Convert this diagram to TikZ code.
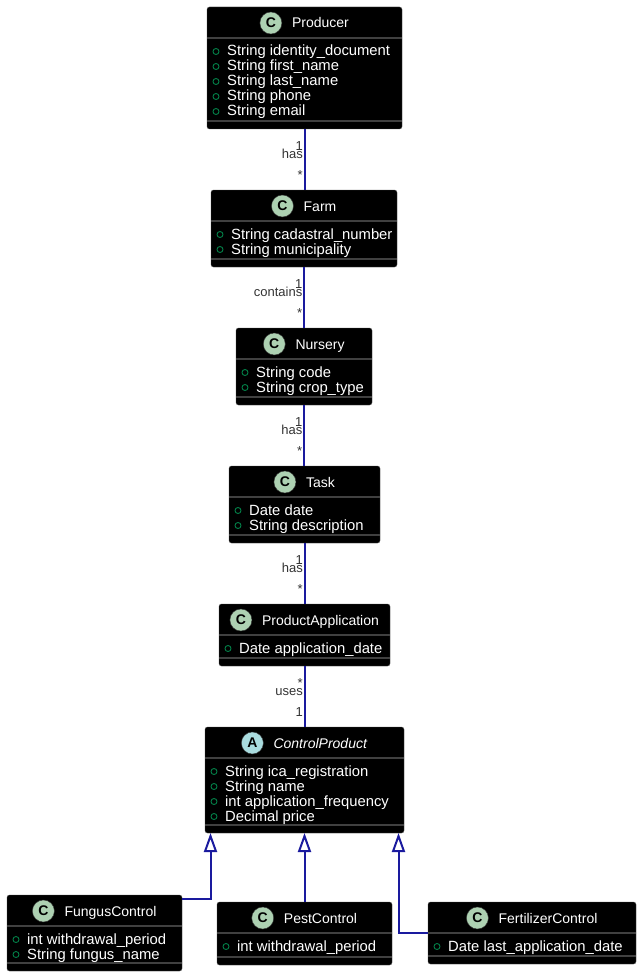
\documentclass[tikz,border=0pt]{standalone}
\usepackage{fontspec}
\setmainfont{Liberation Sans}
\usetikzlibrary{arrows.meta}

\definecolor{spotc}{HTML}{ADD1B2}
\definecolor{spota}{HTML}{A9DCDF}
\definecolor{linkblue}{HTML}{1A1A9E}
\definecolor{attrgreen}{HTML}{038048}

% id, spot letter, name, x1, y1, x2, y2, attributes
\newcommand{\classbox}[8]{%
  \node[classbox, anchor=north west, minimum width={(#6-#4)*1pt},
    minimum height={(#7-#5)*1pt}] (#1) at (#4,#5) {};
  \node[classname] (#1-name) at ([xshift=16pt,yshift=-21pt]#1.north) {#3};
  \node[spot#2] (#1-spot) at ([xshift=-21pt,yshift=5pt]#1-name.base west) {#2};
  \draw[sep] ([yshift=-31pt]#1.north west) -- ([yshift=-31pt]#1.north east);
  \draw[sep] ([yshift=8pt]#1.south west) -- ([yshift=8pt]#1.south east);
  \foreach \att [count=\i] in {#8} {
    \node[attr] (#1-a\i) at ([xshift=20pt,yshift={-34pt-15pt*\i}]#1.north west) {\att};
    \draw[attrdot] ([xshift=-11pt,yshift=4.5pt]#1-a\i.base west) circle [radius=3pt];
  }%
}

% from, to, upper label, role, lower label
\newcommand{\assoc}[5]{%
  \draw[assoc] (#1.south) -- (#1.south |- #2.north);
  \node[lbl] (#1-#2-m1) at ([xshift=-1.5pt,yshift=-21pt]#1.south) {#3};
  \node[lbl] (#1-#2-r) at ([xshift=-1.5pt,yshift=-29pt]#1.south) {#4};
  \node[lbl] (#1-#2-m2) at ([xshift=-1.5pt,yshift=-50pt]#1.south) {#5};
}

\begin{document}
\begin{tikzpicture}
[x=1pt,y=-1pt,
 classbox/.style={draw=black!70,fill=black,rounded corners=2.5pt,inner sep=0pt,outer sep=0pt},
 classname/.style={anchor=base,inner sep=0pt,text=white,font=\fontsize{14}{16}\selectfont},
 spotC/.style={circle,fill=spotc,draw=black!80,minimum size=22pt,inner sep=0pt,
   font=\bfseries\fontsize{14}{14}\selectfont},
 spotA/.style={spotC,fill=spota},
 sep/.style={draw=black!75,line width=1.2pt},
 attr/.style={anchor=base west,inner sep=0pt,text=white,font=\fontsize{14.8}{16}\selectfont},
 attrdot/.style={draw=attrgreen,line width=0.9pt},
 assoc/.style={draw=linkblue,line width=2pt},
 inherit/.style={draw=linkblue,line width=2pt,arrows={-Triangle[open,length=19pt,width=13pt]}},
 lbl/.style={anchor=base east,inner sep=0pt,text=black!80,font=\fontsize{13}{13}\selectfont}]
\useasboundingbox (0,0) rectangle (642,979);

\classbox{producer}{C}{Producer}{207}{7}{402}{129}
  {String identity\_document,String first\_name,String last\_name,String phone,String email}
\classbox{farm}{C}{Farm}{211}{190}{397}{267}
  {String cadastral\_number,String municipality}
\classbox{nursery}{C}{Nursery}{236}{328}{372}{405}
  {String code,String crop\_type}
\classbox{task}{C}{Task}{229}{466}{380}{543}
  {Date date,String description}
\classbox{prodapp}{C}{ProductApplication}{219}{604}{390}{666}
  {Date application\_date}
\classbox{ctrlprod}{A}{\textit{ControlProduct}}{205}{727}{404}{833}
  {String ica\_registration,String name,int application\_frequency,Decimal price}
\classbox{fungus}{C}{FungusControl}{7}{895}{182}{971}
  {int withdrawal\_period,String fungus\_name}
\classbox{pest}{C}{PestControl}{217}{902}{392}{965}
  {int withdrawal\_period}
\classbox{fert}{C}{FertilizerControl}{428}{902}{636}{964}
  {Date last\_application\_date}

\assoc{producer}{farm}{1}{has}{*}
\assoc{farm}{nursery}{1}{contains}{*}
\assoc{nursery}{task}{1}{has}{*}
\assoc{task}{prodapp}{1}{has}{*}
\assoc{prodapp}{ctrlprod}{*}{uses}{1}

\coordinate (cpl) at ([xshift=5.5pt]ctrlprod.south west);
\coordinate (cpr) at ([xshift=-5.5pt]ctrlprod.south east);
\draw[inherit] ([yshift=-3.5pt]fungus.north east) -| (cpl);
\draw[inherit] (pest.north) -- (pest.north |- ctrlprod.south);
\draw[inherit] ([yshift=-31pt]fert.north west) -| (cpr);

\end{tikzpicture}
\end{document}
